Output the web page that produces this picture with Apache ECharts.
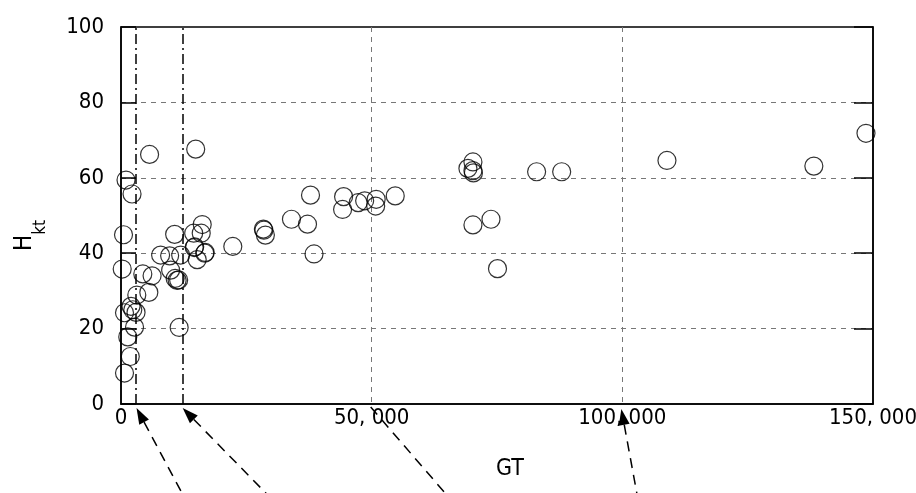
<!DOCTYPE html>
<html>
<head>
<meta charset="utf-8">
<script src="https://cdn.jsdelivr.net/npm/echarts@6/dist/echarts.min.js"></script>
<style>
html,body{margin:0;padding:0;background:#fff;}
#c{width:916px;height:493px;}
</style>
</head>
<body>
<div id="c"></div>
<script>
// ---- data (GT, H_kt) ----
const gtValues = [
  700, 1850, 1350, 2700, 700, 3000, 2350, 2000, 3150, 5550,
  4350, 6200, 240, 500, 1000, 2200, 5700, 14900, 11600,
  7900, 9700, 11900, 9900, 10800, 11200, 11500, 10700, 14500, 16000,
  16200, 14600, 14700, 16800, 16700, 15200, 22300,
  28400, 28500, 28800, 34000, 37200, 38500, 37800, 44400, 44200,
  47300, 48600, 50900, 50800, 54700,
  70200, 69200, 70200, 70300, 82900, 87900, 70200, 73800, 75100,
  108900, 138200, 148600
];
const hktValues = [
  8.2, 12.6, 17.8, 20.4, 24.2, 24.3, 25.0, 25.9, 28.9, 29.6,
  34.5, 34.0, 35.8, 44.9, 59.4, 55.7, 66.2, 67.6, 20.3,
  39.5, 39.3, 39.5, 35.5, 33.3, 32.8, 32.9, 45.0, 45.3, 45.3,
  47.6, 41.5, 41.7, 40.2, 40.0, 38.3, 41.8,
  46.4, 46.1, 44.8, 49.0, 47.7, 39.8, 55.4, 55.0, 51.6,
  53.4, 53.9, 54.3, 52.5, 55.2,
  64.2, 62.5, 61.9, 61.3, 61.6, 61.6, 47.5, 49.0, 35.9,
  64.6, 63.1, 71.8
];
const boundaryGT = [2900, 12300];           // vertical dash-dot lines
const arrowAnchorsGT = [2900, 12300, 50000, 100000];
const xTicks = [0, 50000, 100000, 150000];
const yTicks = [0, 20, 40, 60, 80, 100];

const FONT = "'Liberation Sans Narrow','DejaVu Sans Condensed','Noto Sans CJK JP',sans-serif";
const points = gtValues.map((g, i) => [g, hktValues[i]]);

function fmtX(v) {
  if (v === 0) return '0';
  const s = String(v);
  return s.slice(0, s.length - 3) + ', ' + s.slice(-3);
}

const chart = echarts.init(document.getElementById('c'));
chart.setOption({
  animation: false,
  backgroundColor: '#fff',
  grid: { left: 121, right: 43, top: 27, bottom: 89, containLabel: false, outerBoundsMode: 'none',
          show: true, borderColor: '#000', borderWidth: 1.5, backgroundColor: 'transparent' },
  xAxis: {
    type: 'value', min: xTicks[0], max: xTicks[xTicks.length - 1], interval: 50000,
    name: 'GT', nameLocation: 'middle', nameGap: 54,
    nameTextStyle: { color: '#000', fontSize: 23, fontFamily: FONT, padding: [0, 0, 0, 26] },
    axisLine: { show: true, lineStyle: { color: '#000', width: 1.5 } },
    axisTick: { show: false },
    axisLabel: { color: '#000', fontSize: 22, fontFamily: FONT, margin: 3, formatter: fmtX, hideOverlap: false },
    splitLine: { show: true, showMinLine: false, showMaxLine: false, lineStyle: { color: '#777', type: [5, 5], width: 1 } }
  },
  yAxis: [{
    type: 'value', min: yTicks[0], max: yTicks[yTicks.length - 1], interval: 20,
    name: '{a|H}{b|kt}', nameLocation: 'middle', nameGap: 72, nameRotate: 90,
    nameTextStyle: {
      color: '#000', fontFamily: FONT, padding: [0, 40, 0, 0],
      rich: {
        a: { fontSize: 24, fontFamily: FONT, color: '#000', verticalAlign: 'top' },
        b: { fontSize: 17, fontFamily: FONT, color: '#000', verticalAlign: 'bottom', lineHeight: 36 }
      }
    },
    axisLine: { show: true, lineStyle: { color: '#000', width: 1.5 } },
    axisTick: { show: true, inside: true, length: 15, lineStyle: { color: '#000', width: 1.5 } },
    axisLabel: { color: '#000', fontSize: 22, fontFamily: FONT, margin: 17, padding: [0, 0, 8, 0] },
    splitLine: { show: true, showMinLine: false, showMaxLine: false, lineStyle: { color: '#777', type: [5, 5], width: 1 } }
  }, {
    type: 'value', position: 'right', min: yTicks[0], max: yTicks[yTicks.length - 1], interval: 20,
    axisLine: { show: true, lineStyle: { color: '#000', width: 1.5 } },
    axisTick: { show: true, inside: true, length: 19, lineStyle: { color: '#000', width: 1.5 } },
    axisLabel: { show: false },
    splitLine: { show: false }
  }],
  series: [{
    type: 'scatter',
    data: points,
    symbol: 'circle',
    symbolSize: 18,
    itemStyle: { color: 'rgba(0,0,0,0)', borderColor: '#000', borderWidth: 1.2 },
    emphasis: { disabled: true },
    markLine: {
      silent: true, symbol: 'none',
      label: { show: false },
      lineStyle: { color: '#000', width: 1.5, type: [10, 4, 2, 4] },
      data: boundaryGT.map(v => ({ xAxis: v }))
    }
  }]
});

// ---- annotation arrows anchored to axis positions ----
// [tipDx, tipDy, tailDx, tailDy, hasHead]
const arrowOffsets = [
  [1, 4, 48, 92, true],
  [0, 4, 86, 92, true],
  [-1, 3, 76, 92, false],
  [-1, 5, 15, 92, true]
];
const gfx = [];
arrowAnchorsGT.forEach((g, i) => {
  const p = chart.convertToPixel({ xAxisIndex: 0, yAxisIndex: 0 }, [g, 0]);
  const o = arrowOffsets[i];
  const tx = p[0] + o[0], ty = p[1] + o[1];
  const ex = p[0] + o[2], ey = p[1] + o[3];
  const dx = tx - ex, dy = ty - ey, L = Math.hypot(dx, dy);
  const ux = dx / L, uy = dy / L;
  const hl = 16, hw = 5.5;
  const bx = tx - ux * hl, by = ty - uy * hl;
  gfx.push({
    type: 'line', silent: true,
    shape: { x1: o[4] ? bx : tx, y1: o[4] ? by : ty, x2: ex, y2: ey },
    style: { stroke: '#000', lineWidth: 1.5, lineDash: [10, 7] }
  });
  if (o[4]) {
    gfx.push({
      type: 'polygon', silent: true,
      shape: { points: [[tx, ty], [bx - uy * hw, by + ux * hw], [bx + uy * hw, by - ux * hw]] },
      style: { fill: '#000' }
    });
  }
});
chart.setOption({ graphic: gfx });
</script>
</body>
</html>
